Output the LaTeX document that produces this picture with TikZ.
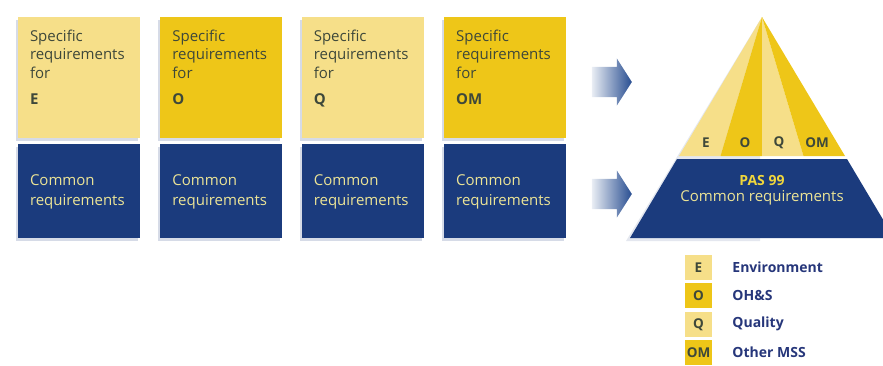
\documentclass[tikz,border=0pt]{standalone}
\usepackage{fontspec}
\setmainfont{Open Sans}
\usepackage{tikz}
\usetikzlibrary{positioning, shapes.arrows, shadows}

\definecolor{lightyel}{RGB}{246,223,137}
\definecolor{darkyel}{RGB}{238,198,24}
\definecolor{pasblue}{RGB}{27,59,125}
\definecolor{arrowblue}{RGB}{40,78,145}
\definecolor{txtgrey}{RGB}{62,72,58}
\definecolor{cmntxt}{RGB}{236,228,150}
\definecolor{pastitle}{RGB}{240,214,60}
\definecolor{navytxt}{RGB}{38,54,122}

\tikzset{
  boxshadow/.style={drop shadow={shadow xshift=-2pt, shadow yshift=-2.5pt, opacity=0.3, fill=pasblue!60}},
  specbox/.style={fill=#1, minimum width=122pt, minimum height=121pt, inner sep=0pt, boxshadow},
  combox/.style={fill=pasblue, minimum width=122pt, minimum height=94pt, text width=98pt, inner xsep=12pt,
    align=left, text=cmntxt, font=\fontsize{15}{20}\selectfont, boxshadow},
  spectext/.style={text=txtgrey, align=left, inner sep=0pt, font=\fontsize{15}{18.5}\selectfont},
  fatarrow/.style={single arrow, single arrow head extend=8.5pt, single arrow tip angle=115,
    text height=15pt, text depth=15pt, minimum width=47pt, minimum height=40pt, inner sep=0pt,
    left color=arrowblue!10, right color=arrowblue},
  pyrlabel/.style={text=txtgrey, font=\bfseries\fontsize{13.5}{13.5}\selectfont},
  keybox/.style={fill=#1, minimum width=27pt, minimum height=25pt, inner sep=0pt, text=txtgrey,
    font=\bfseries\fontsize{13.5}{13.5}\selectfont},
  keytext/.style={text=navytxt, inner sep=0pt, font=\bfseries\fontsize{14}{14}\selectfont}
}

\begin{document}
\begin{tikzpicture}[x=1pt, y=-1pt]
    \useasboundingbox (0,0) rectangle (883,365);

    % specific requirement boxes
    \node[specbox=lightyel] (specE) at (79,77.5) {};
    \node[specbox=darkyel, right=20pt of specE] (specO) {};
    \node[specbox=lightyel, right=19pt of specO] (specQ) {};
    \node[specbox=darkyel, right=20pt of specQ] (specOM) {};

    \node[spectext, below right=13pt and 12pt of specE.north west] (txtE) {Specific\\requirements\\for\\[8pt]\textbf{E}};
    \node[spectext, below right=13pt and 12pt of specO.north west] (txtO) {Specific\\requirements\\for\\[8pt]\textbf{O}};
    \node[spectext, below right=13pt and 12pt of specQ.north west] (txtQ) {Specific\\requirements\\for\\[8pt]\textbf{Q}};
    \node[spectext, below right=13pt and 12pt of specOM.north west] (txtOM) {Specific\\requirements\\for\\[8pt]\textbf{OM}};

    % common requirement boxes
    \node[combox, below=6pt of specE] (comE) {Common\\requirements};
    \node[combox, below=6pt of specO] (comO) {Common\\requirements};
    \node[combox, below=6pt of specQ] (comQ) {Common\\requirements};
    \node[combox, below=6pt of specOM] (comOM) {Common\\requirements};

    % arrows
    \node[fatarrow] (arrSpec) at (607,82) {};
    \node[fatarrow] (arrCom) at (607,194) {};

    % pyramid
    \coordinate (apex) at (762,17);
    \fill[pasblue!40, opacity=0.3] (760,20) -- (626,241) -- (760,241) -- cycle;
    \fill[lightyel] (apex) -- (679,156) -- (720.5,156) -- cycle;
    \fill[darkyel] (apex) -- (720.5,156) -- (762,156) -- cycle;
    \fill[lightyel] (apex) -- (762,156) -- (803.5,156) -- cycle;
    \fill[darkyel] (apex) -- (803.5,156) -- (845,156) -- cycle;
    \fill[pasblue] (677,159) -- (847,159) -- (894,238) -- (630,238) -- cycle;

    \node[pyrlabel] (pyrE) at (706,143) {E};
    \node[pyrlabel] (pyrO) at (745,143) {O};
    \node[pyrlabel] (pyrQ) at (779,143) {Q};
    \node[pyrlabel] (pyrOM) at (817,143) {OM};

    \node[text=pastitle, font=\bfseries\fontsize{14}{14}\selectfont] (pasTitle) at (762,180) {PAS 99};
    \node[text=cmntxt, font=\fontsize{15}{15}\selectfont] (pasCommon) at (762,198) {Common requirements};

    % key
    \node[keybox=lightyel] (keyE) at (698.5,267.5) {E};
    \node[keybox=darkyel, below=3pt of keyE] (keyO) {O};
    \node[keybox=lightyel, below=3pt of keyO] (keyQ) {Q};
    \node[keybox=darkyel, below=3pt of keyQ] (keyOM) {OM};

    \node[keytext, right=20pt of keyE] (keyEtxt) {Environment};
    \node[keytext, right=20pt of keyO] (keyOtxt) {OH\&S};
    \node[keytext, right=20pt of keyQ] (keyQtxt) {Quality};
    \node[keytext, right=20pt of keyOM] (keyOMtxt) {Other MSS};
\end{tikzpicture}
\end{document}
